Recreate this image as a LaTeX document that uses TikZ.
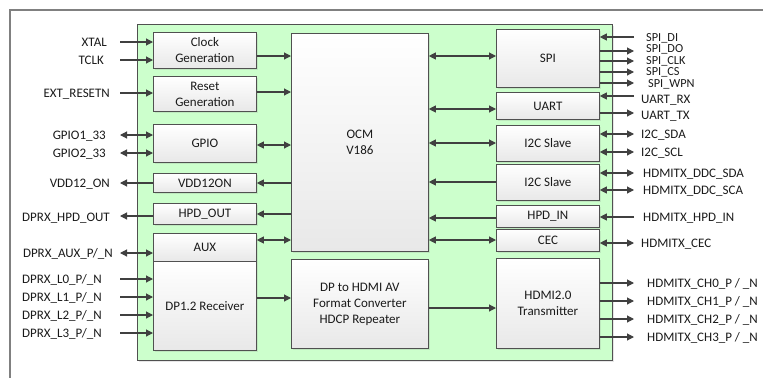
\documentclass[tikz,border=0pt]{standalone}
\usepackage{fontspec}
\setmainfont{Carlito}
\usetikzlibrary{arrows.meta,shadows}
\definecolor{panelgreen}{HTML}{CCFFCC}
\definecolor{edge}{HTML}{505050}
\definecolor{arrowc}{HTML}{404040}
\definecolor{txt}{HTML}{1A1A1A}
\definecolor{frame}{HTML}{808080}
\begin{document}
\begin{tikzpicture}[x=1pt,y=-1pt,
  font=\fontsize{13}{16}\selectfont, text=txt,
  blk/.style={draw=edge, line width=0.8pt, top color=white, bottom color=black!9,
    align=center, inner sep=0pt, anchor=north west,
    drop shadow={shadow xshift=1.2pt, shadow yshift=-1.2pt, opacity=0.18}},
  panel/.style={draw=edge, line width=0.9pt, fill=panelgreen, inner sep=0pt, anchor=north west,
    drop shadow={shadow xshift=1.5pt, shadow yshift=-1.5pt, opacity=0.2}},
  tip/.tip={Triangle[length=7pt,width=7pt]},
  arr/.style={draw=arrowc, line width=1.1pt, -tip},
  darr/.style={draw=arrowc, line width=1.1pt, tip-tip},
  lbl/.style={anchor=base east, inner sep=0pt},
  llbl/.style={anchor=base west, inner sep=0pt},
  rlbl/.style={anchor=base west, inner sep=0pt},
  slbl/.style={anchor=base west, inner sep=0pt, font=\fontsize{12.3}{13}\selectfont}]
\useasboundingbox (0,0) rectangle (763,378);
% outer frame (top and left edges)
\coordinate (fA) at (763,10);
\coordinate (fB) at (10,10);
\coordinate (fC) at (10,378);
\draw[frame, line width=1.6pt] (fA) -- (fB) -- (fC);
% panel
\node[panel, minimum width=475pt, minimum height=336pt] (panel) at (137,24) {};
% left blocks
\node[blk, minimum width=103pt, minimum height=36pt] (clk) at (153,32) {Clock\\Generation};
\node[blk, minimum width=103pt, minimum height=35pt] (rst) at (153,76) {Reset\\Generation};
\node[blk, minimum width=103pt, minimum height=38pt] (gpio) at (153,124) {GPIO};
\node[blk, minimum width=103pt, minimum height=19pt] (vdd) at (153,173) {VDD12ON};
\node[blk, minimum width=103pt, minimum height=21pt] (hpdo) at (153,203) {HPD\_OUT};
\node[blk, minimum width=103pt, minimum height=28pt] (aux) at (153,233) {AUX};
\node[blk, minimum width=103pt, minimum height=89pt] (dprx) at (153,261) {DP1.2 Receiver};
% middle
\node[blk, minimum width=137pt, minimum height=218pt] (ocm) at (291,33) {OCM\\V186};
\node[blk, minimum width=137pt, minimum height=89pt] (conv) at (291,259) {DP to HDMI AV\\Format Converter\\HDCP Repeater};
% right blocks
\node[blk, minimum width=103pt, minimum height=58pt] (spi) at (496,29) {SPI};
\node[blk, minimum width=103pt, minimum height=27pt] (uart) at (496,92) {UART};
\node[blk, minimum width=103pt, minimum height=36pt] (i2ca) at (496,125) {I2C Slave};
\node[blk, minimum width=103pt, minimum height=36pt] (i2cb) at (496,164) {I2C Slave};
\node[blk, minimum width=103pt, minimum height=22pt] (hpdi) at (496,205) {HPD\_IN};
\node[blk, minimum width=103pt, minimum height=22pt] (cec) at (496,229) {CEC};
\node[blk, minimum width=103pt, minimum height=90pt] (hdmi) at (496,258) {HDMI2.0\\Transmitter};

% ---------- left signals ----------
\node[lbl] (lxtal) at (107,46.5) {XTAL};
\node[lbl] (ltclk) at (104,64.5) {TCLK};
\node[lbl] (lrst) at (110,97.5) {EXT\_RESETN};
\node[lbl] (lg1) at (106,139.5) {GPIO1\_33};
\node[lbl] (lg2) at (106,157.5) {GPIO2\_33};
\node[lbl] (lvdd) at (110,187.5) {VDD12\_ON};
\node[lbl] (lhpd) at (110,221) {DPRX\_HPD\_OUT};
\node[lbl] (laux) at (113,257.5) {DPRX\_AUX\_P/\_N};
\node[llbl] (ll0) at (22,283.5) {DPRX\_L0\_P/\_N};
\node[llbl] (ll1) at (22,301.5) {DPRX\_L1\_P/\_N};
\node[llbl] (ll2) at (22,319.5) {DPRX\_L2\_P/\_N};
\node[llbl] (ll3) at (22,337.5) {DPRX\_L3\_P/\_N};

\coordinate (cxtal) at (120,42);
\coordinate (ctclk) at (120,60);
\coordinate (crst) at (120,93);
\coordinate (cg1) at (120,135);
\coordinate (cg2) at (120,153);
\coordinate (cvdd) at (120,183);
\coordinate (chpd) at (120,216);
\coordinate (caux) at (120,253);
\coordinate (cl0) at (120,279);
\coordinate (cl1) at (120,297);
\coordinate (cl2) at (120,315);
\coordinate (cl3) at (120,333);

\draw[arr] (cxtal) -- (cxtal -| clk.west);
\draw[arr] (ctclk) -- (ctclk -| clk.west);
\draw[arr] (crst) -- (crst -| rst.west);
\draw[darr] (cg1) -- (cg1 -| gpio.west);
\draw[darr] (cg2) -- (cg2 -| gpio.west);
\draw[arr] (cvdd -| vdd.west) -- (cvdd);
\draw[arr] (chpd -| hpdo.west) -- (chpd);
\draw[darr] (caux) -- (caux -| aux.west);
\draw[arr] (cl0) -- (cl0 -| dprx.west);
\draw[arr] (cl1) -- (cl1 -| dprx.west);
\draw[arr] (cl2) -- (cl2 -| dprx.west);
\draw[arr] (cl3) -- (cl3 -| dprx.west);

% ---------- internal connections ----------
\coordinate (m1) at (270,56);
\coordinate (m2) at (270,92);
\coordinate (m3) at (270,145);
\coordinate (m4) at (270,183);
\coordinate (m5) at (270,214);
\coordinate (m6) at (270,240);
\coordinate (m7) at (270,298);
\draw[arr] (m1 -| clk.east) -- (m1 -| ocm.west);
\draw[arr] (m2 -| rst.east) -- (m2 -| ocm.west);
\draw[darr] (m3 -| gpio.east) -- (m3 -| ocm.west);
\draw[arr] (m4 -| ocm.west) -- (m4 -| vdd.east);
\draw[arr] (m5 -| ocm.west) -- (m5 -| hpdo.east);
\draw[darr] (m6 -| aux.east) -- (m6 -| ocm.west);
\draw[arr] (m7 -| dprx.east) -- (m7 -| conv.west);

\coordinate (n1) at (460,56);
\coordinate (n2) at (460,109);
\coordinate (n3) at (460,143);
\coordinate (n4) at (460,182);
\coordinate (n5) at (460,218);
\coordinate (n6) at (460,240);
\coordinate (n7) at (460,308);
\draw[darr] (n1 -| ocm.east) -- (n1 -| spi.west);
\draw[darr] (n2 -| ocm.east) -- (n2 -| uart.west);
\draw[darr] (n3 -| ocm.east) -- (n3 -| i2ca.west);
\draw[arr] (n4 -| i2cb.west) -- (n4 -| ocm.east);
\draw[arr] (n5 -| hpdi.west) -- (n5 -| ocm.east);
\draw[darr] (n6 -| ocm.east) -- (n6 -| cec.west);
\draw[arr] (n7 -| conv.east) -- (n7 -| hdmi.west);

% ---------- right signals ----------
\coordinate (rdi) at (634,37);
\coordinate (rdo) at (634,51);
\coordinate (rclk) at (634,61);
\coordinate (rcs) at (634,72);
\coordinate (rwpn) at (634,83);
\coordinate (rrx) at (634,96);
\coordinate (rtx) at (634,113);
\coordinate (rsda) at (634,134);
\coordinate (rscl) at (634,152);
\coordinate (rdsda) at (634,173);
\coordinate (rdsca) at (634,190);
\coordinate (rhpd) at (634,217);
\coordinate (rcec) at (634,243);
\coordinate (rch0) at (634,283);
\coordinate (rch1) at (634,301);
\coordinate (rch2) at (634,319);
\coordinate (rch3) at (634,337);

\draw[arr] (rdi) -- (rdi -| spi.east);
\draw[arr] (rdo -| spi.east) -- (rdo);
\draw[arr] (rclk -| spi.east) -- (rclk);
\draw[arr] (rcs -| spi.east) -- (rcs);
\draw[arr] (rwpn -| spi.east) -- (rwpn);
\draw[arr] (rrx) -- (rrx -| uart.east);
\draw[arr] (rtx -| uart.east) -- (rtx);
\draw[darr] (rsda -| i2ca.east) -- (rsda);
\draw[darr] (rscl -| i2ca.east) -- (rscl);
\draw[darr] (rdsda -| i2cb.east) -- (rdsda);
\draw[darr] (rdsca -| i2cb.east) -- (rdsca);
\draw[arr] (rhpd) -- (rhpd -| hpdi.east);
\draw[darr] (rcec -| cec.east) -- (rcec);
\draw[arr] (rch0 -| hdmi.east) -- (rch0);
\draw[arr] (rch1 -| hdmi.east) -- (rch1);
\draw[arr] (rch2 -| hdmi.east) -- (rch2);
\draw[arr] (rch3 -| hdmi.east) -- (rch3);

\node[slbl] (tdi) at (646,41) {SPI\_DI};
\node[slbl] (tdo) at (646,52.5) {SPI\_DO};
\node[slbl] (tclk) at (646,64) {SPI\_CLK};
\node[slbl] (tcs) at (646,75.5) {SPI\_CS};
\node[slbl] (twpn) at (648,87) {SPI\_WPN};
\node[rlbl] (trx) at (641,103) {UART\_RX};
\node[rlbl] (ttx) at (641,119.5) {UART\_TX};
\node[rlbl] (tsda) at (641,138.5) {I2C\_SDA};
\node[rlbl] (tscl) at (641,156.5) {I2C\_SCL};
\node[rlbl] (tdsda) at (643,177.5) {HDMITX\_DDC\_SDA};
\node[rlbl] (tdsca) at (643,194.5) {HDMITX\_DDC\_SCA};
\node[rlbl] (thpd) at (643,221.5) {HDMITX\_HPD\_IN};
\node[rlbl] (tcec) at (641,247.5) {HDMITX\_CEC};
\node[rlbl] (tch0) at (647,287.5) {HDMITX\_CH0\_P / \_N};
\node[rlbl] (tch1) at (647,305.5) {HDMITX\_CH1\_P / \_N};
\node[rlbl] (tch2) at (647,323.5) {HDMITX\_CH2\_P / \_N};
\node[rlbl] (tch3) at (647,341.5) {HDMITX\_CH3\_P / \_N};
\end{tikzpicture}
\end{document}
